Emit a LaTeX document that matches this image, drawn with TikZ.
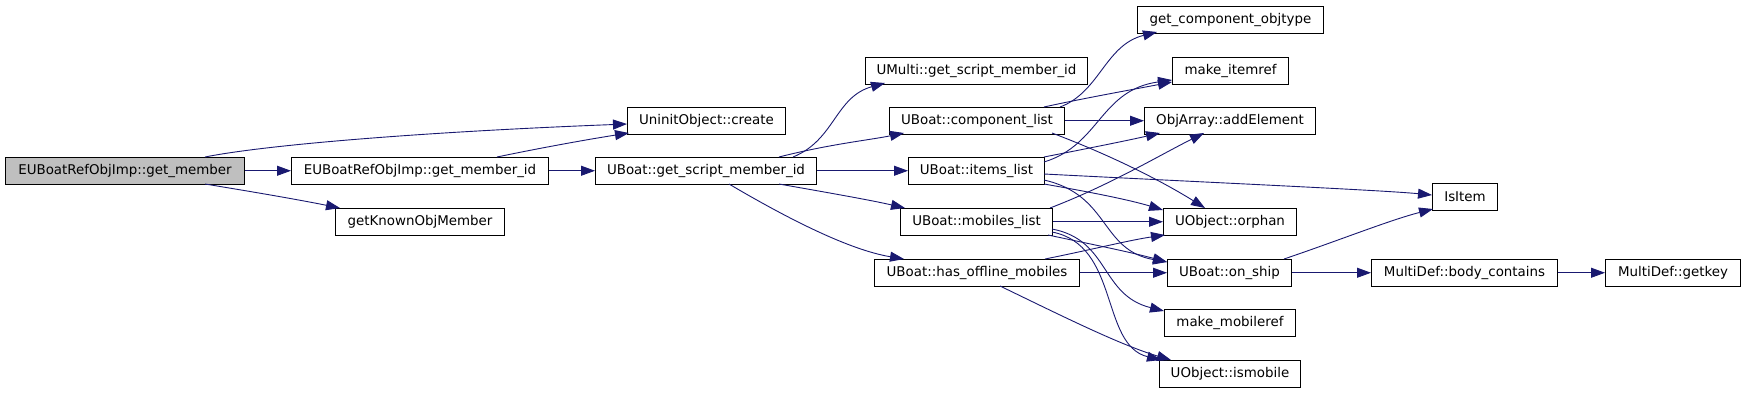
\documentclass[tikz,border=0pt]{standalone}
\usepackage{fontspec}
\setmainfont{DejaVu Sans}
\usetikzlibrary{arrows.meta}
\definecolor{navy}{HTML}{191970}
\definecolor{hl}{HTML}{BFBFBF}
\tikzset{
  box/.style={draw=black, line width=1pt, anchor=north west, inner sep=0pt,
    minimum height=26.5pt, font=\fontsize{13.4}{16}\selectfont, fill=white},
  hlbox/.style={box, fill=hl},
  edge/.style={draw=navy, line width=0.9pt, -{Triangle[length=14pt,width=10pt]}}
}
\begin{document}
\begin{tikzpicture}[x=1pt,y=-1pt]
\useasboundingbox (0,0) rectangle (1744,392);
% nodes (top-left corners in px)
\node[hlbox, minimum width=239pt] (gm) at (5,157) {EUBoatRefObjImp::get\_member};
\node[box, minimum width=257pt] (gmid) at (291,157) {EUBoatRefObjImp::get\_member\_id};
\node[box, minimum width=169pt] (gkom) at (335,208) {getKnownObjMember};
\node[box, minimum width=158pt] (uoc) at (627,107) {UninitObject::create};
\node[box, minimum width=221pt] (gsmid) at (595,157) {UBoat::get\_script\_member\_id};
\node[box, minimum width=222pt] (umulti) at (865,57) {UMulti::get\_script\_member\_id};
\node[box, minimum width=175pt] (clist) at (889,107) {UBoat::component\_list};
\node[box, minimum width=136pt] (ilist) at (908,157) {UBoat::items\_list};
\node[box, minimum width=152pt] (mlist) at (900,208) {UBoat::mobiles\_list};
\node[box, minimum width=205pt] (hom) at (874,259) {UBoat::has\_offline\_mobiles};
\node[box, minimum width=186pt] (gco) at (1137,6) {get\_component\_objtype};
\node[box, minimum width=116pt] (mir) at (1172,57) {make\_itemref};
\node[box, minimum width=171pt] (oae) at (1144,107) {ObjArray::addElement};
\node[box, minimum width=65pt] (isitem) at (1432,183) {IsItem};
\node[box, minimum width=133pt] (orphan) at (1163,208) {UObject::orphan};
\node[box, minimum width=124pt] (onship) at (1167,259) {UBoat::on\_ship};
\node[box, minimum width=131pt] (mmr) at (1164,309) {make\_mobileref};
\node[box, minimum width=141pt] (ism) at (1159,360) {UObject::ismobile};
\node[box, minimum width=186pt] (mbc) at (1371,259) {MultiDef::body\_contains};
\node[box, minimum width=135pt] (mgk) at (1605,259) {MultiDef::getkey};
% edges
\draw[edge] ([shift={(200,0)}]gm.north west) .. controls (265,145) and (420,132) .. ([shift={(0,17)}]uoc.north west);
\draw[edge] (gm.east) -- (gmid.west);
\draw[edge] ([shift={(200,27)}]gm.north west) .. controls (260,193) and (300,200) .. ([shift={(5,0)}]gkom.north west);
\draw[edge] ([shift={(206,0)}]gmid.north west) .. controls (540,148) and (590,139) .. ([shift={(2,26)}]uoc.north west);
\draw[edge] (gmid.east) -- (gsmid.west);
\draw[edge] ([shift={(198,0)}]gsmid.north west) .. controls (835,140) and (835,97) .. ([shift={(20,26)}]umulti.north west);
\draw[edge] ([shift={(184,0)}]gsmid.north west) .. controls (830,144) and (870,140) .. ([shift={(15,26)}]clist.north west);
\draw[edge] (gsmid.east) -- (ilist.west);
\draw[edge] ([shift={(184,27)}]gsmid.north west) .. controls (830,193) and (870,200) .. ([shift={(5,0)}]mlist.north west);
\draw[edge] ([shift={(134,27)}]gsmid.north west) .. controls (790,220) and (850,250) .. ([shift={(30,0)}]hom.north west);
\draw[edge] ([shift={(171,0)}]clist.north west) .. controls (1100,92) and (1105,45) .. ([shift={(20,26)}]gco.north west);
\draw[edge] ([shift={(155,0)}]clist.north west) .. controls (1080,99) and (1130,90) .. ([shift={(0,25)}]mir.north west);
\draw[edge] (clist.east) -- (oae.west);
\draw[edge] ([shift={(163,26)}]clist.north west) .. controls (1110,155) and (1160,180) .. ([shift={(42,0)}]orphan.north west);
\draw[edge] ([shift={(136,5)}]ilist.north west) .. controls (1100,145) and (1100,90) .. ([shift={(0,23)}]mir.north west);
\draw[edge] ([shift={(136,0)}]ilist.north west) .. controls (1090,148) and (1130,140) .. ([shift={(16,26)}]oae.north west);
\draw[edge] ([shift={(136,17)}]ilist.north west) .. controls (1200,182) and (1380,190) .. ([shift={(0,12)}]isitem.north west);
\draw[edge] ([shift={(136,27)}]ilist.north west) .. controls (1090,192) and (1130,200) .. ([shift={(0,2)}]orphan.north west);
\draw[edge] ([shift={(136,23)}]ilist.north west) .. controls (1110,195) and (1100,250) .. ([shift={(0,3)}]onship.north west);
\draw[edge] ([shift={(150,0)}]mlist.north west) .. controls (1110,185) and (1160,155) .. ([shift={(60,26)}]oae.north west);
\draw[edge] (mlist.east) -- (orphan.west);
\draw[edge] ([shift={(148,27)}]mlist.north west) .. controls (1095,245) and (1130,252) .. ([shift={(0,3)}]onship.north west);
\draw[edge] ([shift={(152,21)}]mlist.north west) .. controls (1110,240) and (1100,295) .. ([shift={(0,2)}]mmr.north west);
\draw[edge] ([shift={(152,24)}]mlist.north west) .. controls (1120,245) and (1100,345) .. ([shift={(2,0)}]ism.north west);
\draw[edge] ([shift={(171,0)}]hom.north west) .. controls (1090,250) and (1130,240) .. ([shift={(2,27)}]orphan.north west);
\draw[edge] (hom.east) -- (onship.west);
\draw[edge] ([shift={(126,27)}]hom.north west) .. controls (1060,315) and (1120,345) .. ([shift={(12,0)}]ism.north west);
\draw[edge] ([shift={(117,0)}]onship.north west) .. controls (1340,240) and (1390,220) .. ([shift={(1,26)}]isitem.north west);
\draw[edge] (onship.east) -- (mbc.west);
\draw[edge] (mbc.east) -- (mgk.west);
\end{tikzpicture}
\end{document}
